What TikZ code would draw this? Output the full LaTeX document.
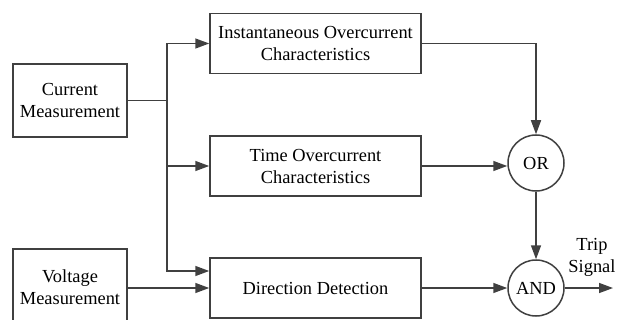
\documentclass[tikz,border=0pt]{standalone}
\usepackage{fontspec}
\setmainfont{Liberation Serif}
\usetikzlibrary{arrows.meta,calc}

\definecolor{wire}{HTML}{404040}

\tikzset{
  block/.style={draw=wire, line width=1.5pt, rectangle, inner sep=0pt,
    align=center, font=\fontsize{18.4}{22}\selectfont},
  gate/.style={draw=wire, line width=1.5pt, circle, inner sep=0pt,
    minimum size=56pt, font=\fontsize{18.4}{22}\selectfont},
  flow/.style={draw=wire, line width=1.5pt,
    -{Triangle[length=14pt,width=10pt]}},
  wireline/.style={draw=wire, line width=1.5pt},
  caption/.style={align=center, inner sep=0pt, font=\fontsize{18.4}{22}\selectfont}
}

\begin{document}
\begin{tikzpicture}[x=1pt, y=-1pt]
  \useasboundingbox (0,0) rectangle (620,320);

  % measurement inputs
  \node[block, minimum width=114pt, minimum height=73pt] (cur) at (70,100.5)
    {Current\\Measurement};
  \node[block, minimum width=114pt, minimum height=76pt] (volt) at (70,287)
    {Voltage\\Measurement};

  % protection elements
  \node[block, minimum width=211pt, minimum height=60pt] (inst) at (315.5,43.5)
    {Instantaneous Overcurrent\\Characteristics};
  \node[block, minimum width=211pt, minimum height=60pt] (toc) at (315.5,166)
    {Time Overcurrent\\Characteristics};
  \node[block, minimum width=211pt, minimum height=60pt] (dir) at (315.5,288)
    {Direction Detection};

  % logic gates
  \node[gate] (or) at (536,163) {OR};
  \node[gate] (and) at (536,288) {AND};

  % trip output
  \coordinate (out) at (613,288);
  \node[caption] (trip) at (592,257) {Trip\\Signal};

  % current measurement bus
  \coordinate (bus) at (167,100.5);
  \draw[wireline] (cur.east) -- (bus);
  \draw[flow] (bus) |- (inst.west);
  \draw[flow] (bus) |- (toc.west);
  \draw[flow] (bus) |- ($(dir.west)+(0,-17)$);

  % voltage measurement
  \draw[flow] (volt.east |- dir.west) -- (dir.west);

  % logic
  \draw[flow] (inst.east) -| (or.north);
  \draw[flow] (toc.east) -- (toc.east -| or.west);
  \draw[flow] (or.south) -- (and.north);
  \draw[flow] (dir.east) -- (and.west);
  \draw[flow] (and.east) -- (out);
\end{tikzpicture}
\end{document}
